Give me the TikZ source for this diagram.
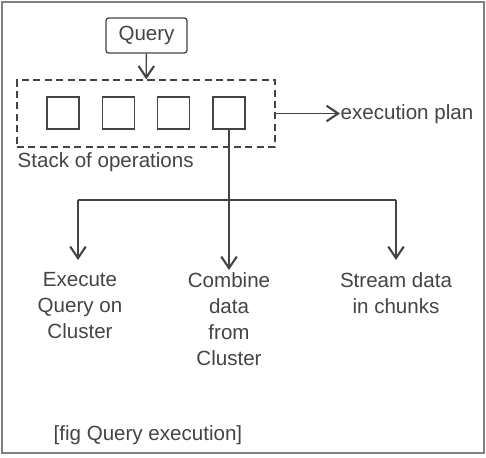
\documentclass[tikz,border=0pt]{standalone}
\usepackage{fontspec}
\setmainfont{Liberation Sans}
\usetikzlibrary{arrows.meta}
\definecolor{inkgray}{HTML}{444444}
\definecolor{framegray}{HTML}{808080}
\tikzset{
	opbox/.style={draw,minimum size=0.64cm,inner sep=0pt},
	outcome/.style={align=center,inner sep=0pt,font=\fontsize{11.7}{14.8}\selectfont}
}

\begin{document}
\begin{tikzpicture}[x=0.02cm,y=-0.02cm,color=inkgray,line width=0.75pt,
	>={Straight Barb[length=2.3mm,width=3.1mm,line width=1.2pt]},
	every node/.style={font=\fontsize{11.7}{14.8}\selectfont}]
		\useasboundingbox (0,0) rectangle (486,457);
		\draw[framegray,line width=1.1pt] (2,2) rectangle (484,453);
		\node (query)[draw,rounded corners=1.5pt,minimum width=1.62cm,minimum height=0.7cm] at (146.5,35.5) {Query};
		\node (stack)[draw,dash pattern=on 4pt off 2.5pt,minimum width=5.16cm,minimum height=1.34cm] at (146,113.5) {};
		\foreach \i/\x in {1/63,2/118.5,3/173.5,4/229}
			\node (op\i)[opbox] at (\x,113) {};
		\draw[->] (query) -- (stack);
		\node (plan)[anchor=west,inner sep=0pt] at (340,114) {execution plan};
		\draw[->] (stack.east) -- (stack.east -| plan.west);
		\node (stacklabel)[anchor=west,inner sep=0pt] at (17,162) {Stack of operations};
		
		\coordinate (fork) at (229,200);
		\coordinate (forkleft) at (78,200);
		\coordinate (forkright) at (396,200);
		\draw (op4) -- (fork);
		\draw (forkleft) -- (forkright);
		\node (execute)[outcome] at (80,306) {Execute\\Query on\\Cluster};
		\node (combine)[outcome] at (229,319) {Combine\\data\\from\\Cluster};
		\node (stream)[outcome] at (396,293.5) {Stream data\\in chunks};
		\draw[->] (forkleft) -- +(0,60);
		\draw[->] (fork) -- +(0,70);
		\draw[->] (forkright) -- +(0,60);
		\node (caption)[anchor=west,inner sep=0pt] at (53,435) {[fig Query execution]};
\end{tikzpicture}
\end{document}
